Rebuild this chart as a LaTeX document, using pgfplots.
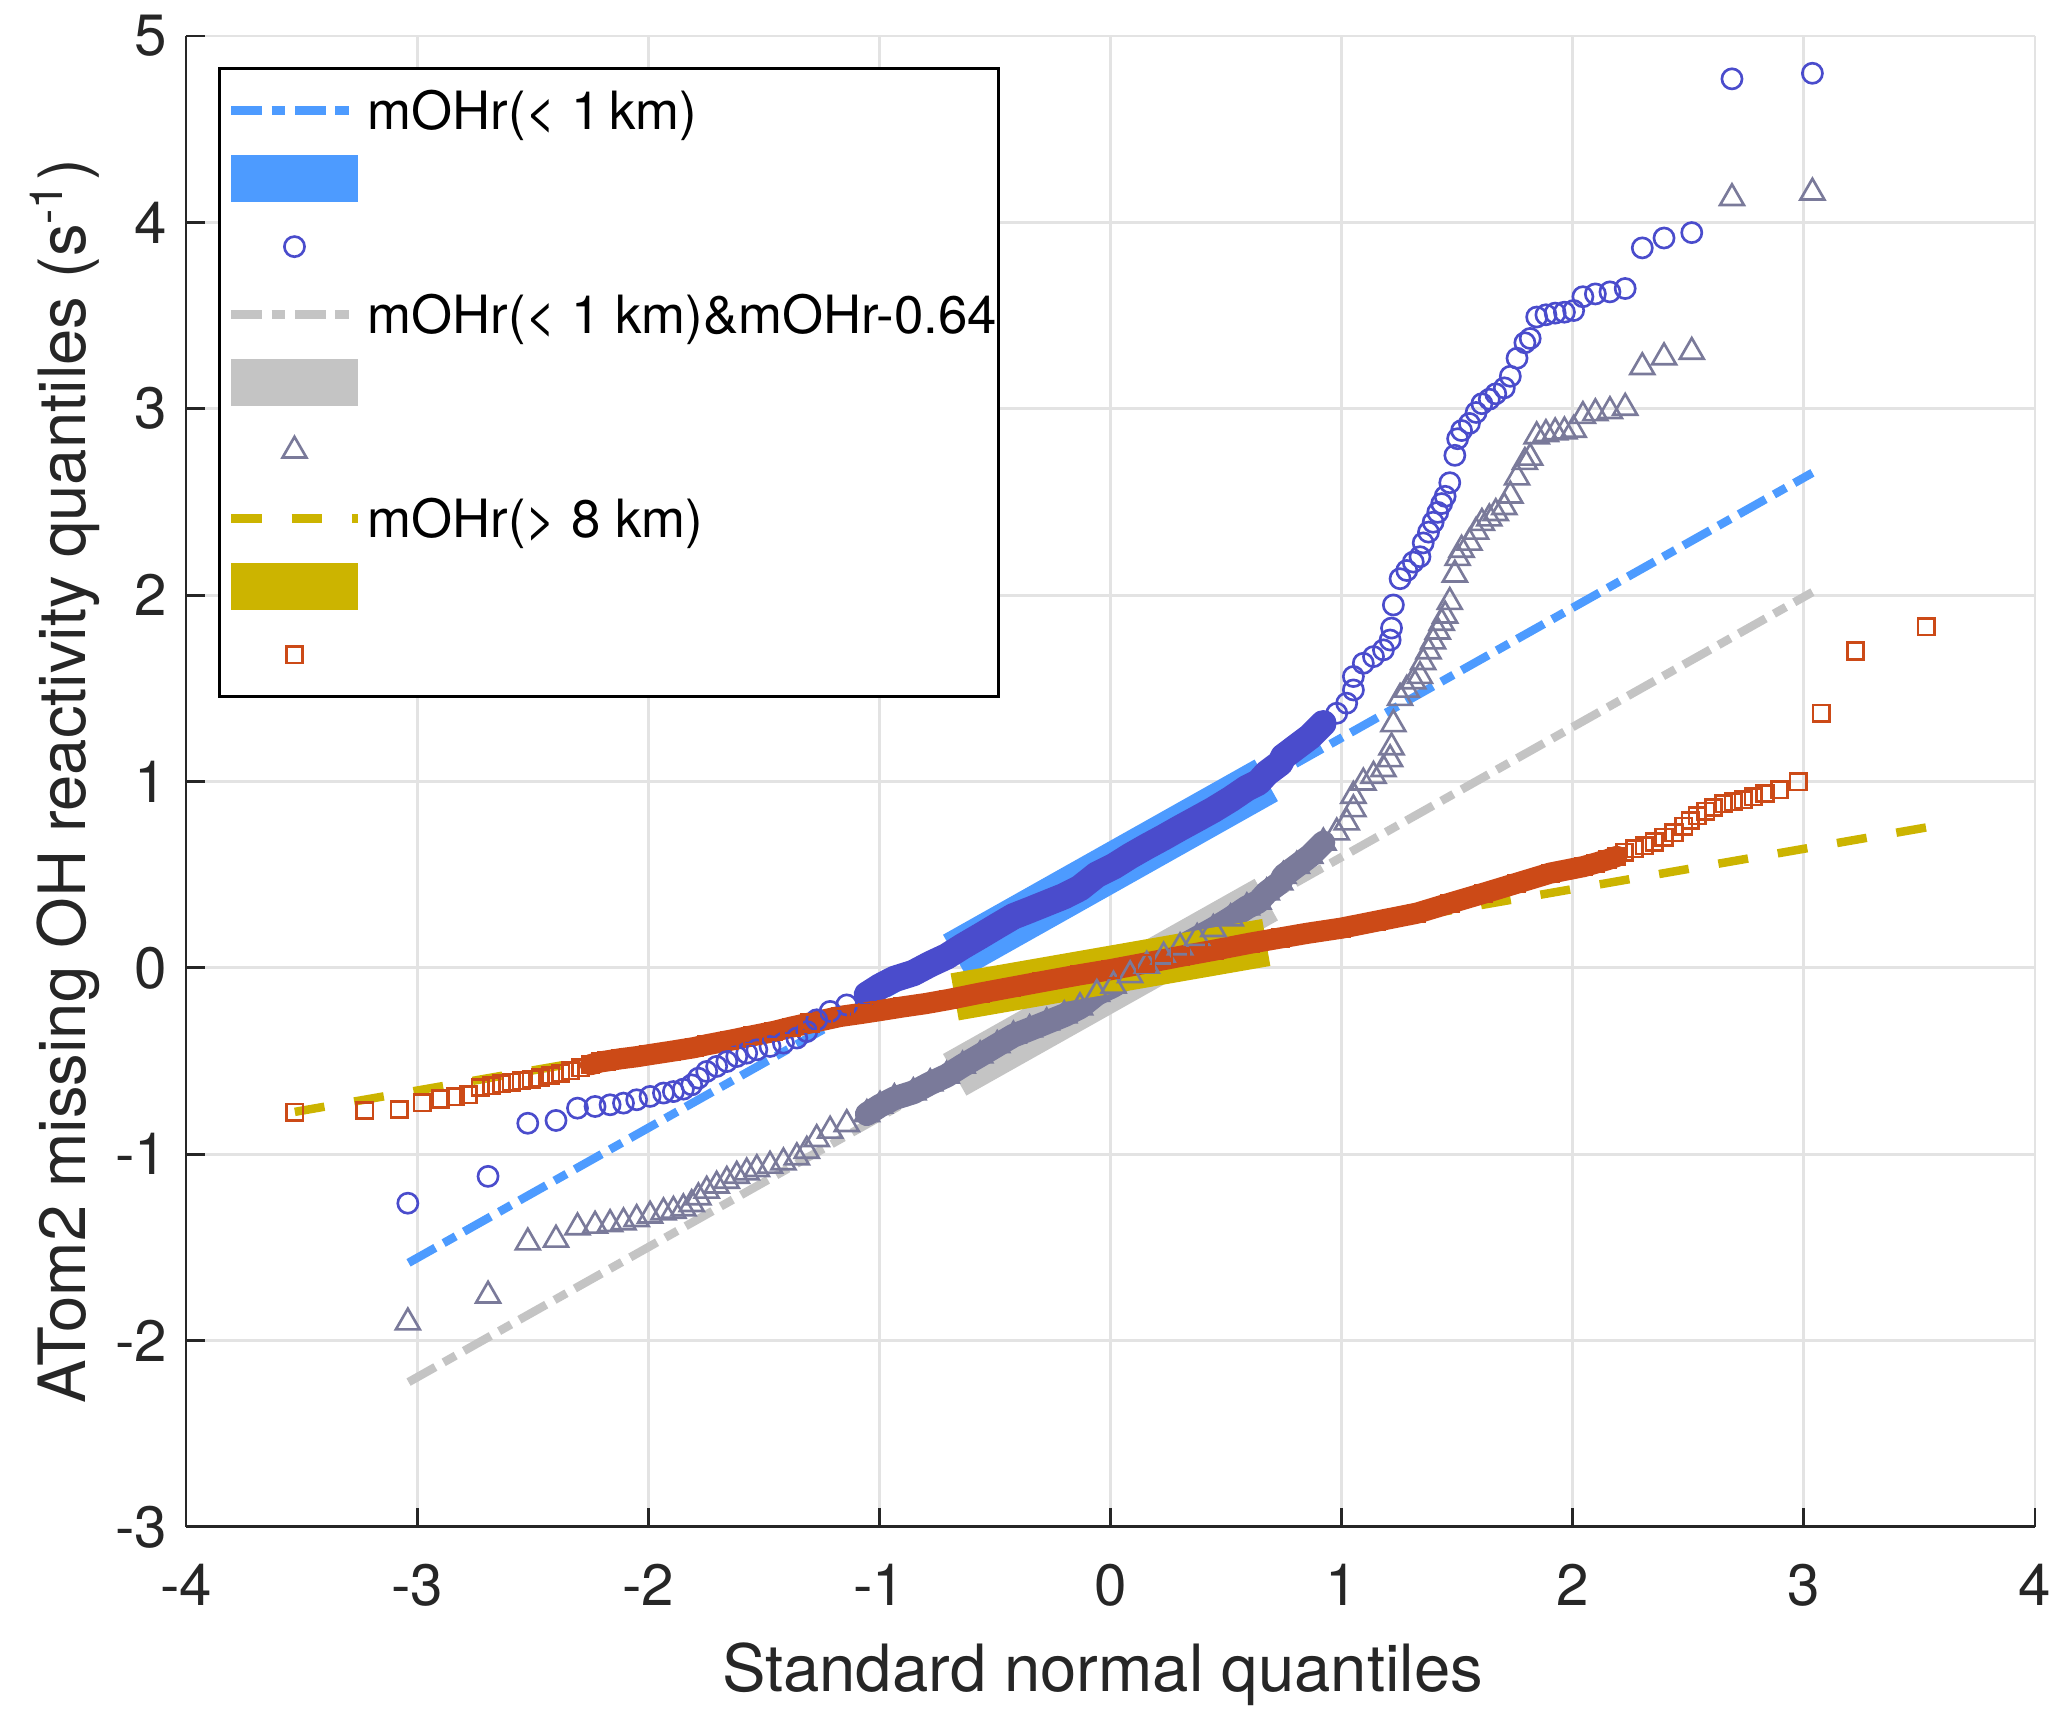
\documentclass[border=0pt]{standalone}
\usepackage{fontspec}
\setmainfont{TeX Gyre Heros}
\usepackage{pgfplots}
\usepackage{pgfplotstable}
\pgfplotsset{compat=1.18}

\definecolor{lineblue}{RGB}{77,155,255}
\definecolor{circblue}{RGB}{74,76,204}
\definecolor{lgray}{RGB}{196,196,196}
\definecolor{trigray}{RGB}{122,122,154}
\definecolor{lyellow}{RGB}{204,180,0}
\definecolor{sqred}{RGB}{204,74,23}
\definecolor{txtgray}{RGB}{38,38,38}
\definecolor{gridgray}{RGB}{227,227,227}

\pgfplotsset{
  lineleg/.style={legend image code/.code={%
    \path[draw=none, fill=none, use as bounding box] (0pt,-4.7pt) rectangle (23.8pt,4.7pt);%
    \draw[##1] (0pt,0pt) -- (23.8pt,0pt);}},
  markleg/.style={legend image code/.code={%
    \path[draw=none, fill=none, use as bounding box] (0pt,-4.7pt) rectangle (23.8pt,4.7pt);%
    \draw[##1] plot coordinates {(11.9pt,0pt)};}},
}

% mOHr (< 1 km) sample quantiles
\pgfplotstableread{
x y
-3.040 -1.263
-2.693 -1.119
-2.521 -0.834
-2.399 -0.819
-2.306 -0.753
-2.230 -0.744
-2.165 -0.735
-2.107 -0.726
-2.050 -0.708
-1.992 -0.690
-1.934 -0.672
-1.891 -0.664
-1.848 -0.651
-1.812 -0.628
-1.783 -0.592
-1.747 -0.556
-1.704 -0.529
-1.660 -0.503
-1.617 -0.476
-1.574 -0.458
-1.530 -0.440
-1.473 -0.422
-1.415 -0.404
-1.357 -0.377
-1.314 -0.342
-1.271 -0.279
-1.213 -0.234
-1.141 -0.199
-1.054 -0.145
-0.997 -0.100
-0.935 -0.060
-0.853 -0.028
-0.780 0.020
-0.709 0.061
-0.640 0.115
-0.564 0.170
-0.490 0.225
-0.420 0.276
-0.350 0.310
-0.276 0.347
-0.200 0.385
-0.132 0.428
-0.059 0.500
0.013 0.544
0.085 0.600
0.157 0.651
0.230 0.700
0.301 0.750
0.375 0.800
0.445 0.848
0.520 0.905
0.590 0.964
0.640 0.995
0.676 1.044
0.734 1.098
0.748 1.133
0.806 1.187
0.864 1.241
0.921 1.312
0.979 1.366
1.022 1.420
1.051 1.491
1.051 1.563
1.094 1.634
1.138 1.670
1.181 1.706
1.210 1.759
1.216 1.823
1.224 1.947
1.253 2.088
1.282 2.132
1.310 2.177
1.339 2.206
1.353 2.280
1.376 2.338
1.396 2.391
1.416 2.444
1.433 2.491
1.448 2.530
1.468 2.603
1.490 2.750
1.502 2.839
1.519 2.883
1.553 2.921
1.582 2.980
1.607 3.027
1.639 3.051
1.667 3.080
1.704 3.112
1.730 3.174
1.759 3.271
1.793 3.354
1.816 3.377
1.844 3.492
1.884 3.504
1.924 3.513
1.964 3.518
2.004 3.527
2.044 3.601
2.098 3.616
2.161 3.627
2.227 3.645
2.301 3.863
2.395 3.916
2.515 3.945
2.689 4.770
3.037 4.800
}\circdata

% mOHr (> 8 km) sample quantiles
\pgfplotstableread{
x y
-3.529 -0.775
-3.226 -0.766
-3.078 -0.760
-2.978 -0.725
-2.898 -0.704
-2.835 -0.692
-2.778 -0.681
-2.727 -0.642
-2.678 -0.633
-2.635 -0.622
-2.593 -0.613
-2.550 -0.607
-2.507 -0.598
-2.468 -0.590
-2.421 -0.578
-2.378 -0.566
-2.336 -0.552
-2.293 -0.537
-2.250 -0.520
-2.207 -0.505
-2.180 -0.500
-2.120 -0.488
-2.050 -0.477
-2.000 -0.467
-1.900 -0.448
-1.800 -0.428
-1.747 -0.413
-1.650 -0.390
-1.550 -0.365
-1.458 -0.342
-1.380 -0.318
-1.300 -0.296
-1.170 -0.261
-1.080 -0.245
-1.001 -0.230
-0.900 -0.210
-0.800 -0.192
-0.700 -0.170
-0.564 -0.136
-0.430 -0.105
-0.300 -0.075
-0.132 -0.037
0.000 -0.010
0.150 0.025
0.301 0.061
0.450 0.095
0.604 0.132
0.734 0.160
0.850 0.185
1.000 0.213
1.150 0.250
1.325 0.293
1.469 0.347
1.614 0.400
1.758 0.454
1.902 0.508
2.046 0.543
2.100 0.562
2.150 0.580
2.191 0.598
2.224 0.620
2.267 0.638
2.310 0.655
2.352 0.675
2.395 0.700
2.438 0.725
2.481 0.760
2.509 0.790
2.538 0.815
2.575 0.840
2.609 0.860
2.652 0.880
2.695 0.891
2.738 0.902
2.781 0.918
2.832 0.935
2.895 0.955
2.975 0.999
3.075 1.367
3.223 1.700
3.529 1.829
}\sqdata

\begin{document}
\begin{tikzpicture}
\begin{axis}[
  at={(0pt,0pt)}, anchor=south west,
  scale only axis, width=348.87pt, height=281.3pt,
  xmin=-4, xmax=4, ymin=-3, ymax=5,
  xtick={-4,-3,-2,-1,0,1,2,3,4},
  ytick={-3,-2,-1,0,1,2,3,4,5},
  axis x line*=bottom, axis y line*=left,
  x axis line style={-, line width=0.55pt, color=txtgray},
  y axis line style={-, line width=0.55pt, color=txtgray},
  tick align=inside, major tick length=3.6pt,
  tick style={line width=0.55pt, color=txtgray},
  grid=major, major grid style={color=gridgray, line width=0.55pt},
  /pgf/number format/assume math mode=true,
  ticklabel style={font=\fontsize{11}{13}\selectfont, text=txtgray},
  xticklabel style={yshift=-3.5pt},
  xlabel={Standard normal quantiles},
  ylabel={ATom2 missing OH reactivity quantiles (s\textsuperscript{-1})},
  label style={font=\fontsize{12.3}{15}\selectfont, text=txtgray},
  xlabel style={at={(axis description cs:0.4957,-0.1106)}, anchor=base},
  ylabel style={at={(axis description cs:-0.0542,0.5)}, anchor=base},
  legend cell align=left,
  legend style={
    at={(axis description cs:0.0172,0.979)}, anchor=north west,
    draw=black, line width=0.55pt, fill=white,
    inner xsep=2.3pt, inner ysep=3.2pt,
    font=\fontsize{9.95}{11}\selectfont,
    row sep=3.43pt, column sep=1.9pt,
    nodes={inner sep=0pt, text height=8.2pt, text depth=1.2pt},
  },
  lineleg,
]
% ---- mOHr(< 1 km)
\addplot[lineblue, line width=1.6pt, dash pattern=on 5.8pt off 1.8pt on 2.6pt off 1.8pt]
  coordinates {(-3.037,-1.583) (3.037,2.656)};
\addlegendentry{mOHr(< 1\,km)}
\addplot[lineblue, line width=9pt]
  coordinates {(-0.674,0.066) (0.674,1.006)};
\addlegendentry{~}
\addplot[forget plot, circblue, line width=5pt, line cap=round, line join=round,
  restrict x to domain=-1.1:0.93] table[x=x,y=y] {\circdata};
\addplot[circblue, only marks, mark=o, mark size=1.9pt, line width=0.5pt, markleg]
  table[x=x,y=y] {\circdata};
\addlegendentry{~}
% ---- mOHr(< 1 km) & mOHr - 0.64
\addplot[lgray, line width=1.6pt, dash pattern=on 5.8pt off 1.8pt on 2.6pt off 1.8pt]
  coordinates {(-3.037,-2.223) (3.037,2.016)};
\addlegendentry{mOHr(< 1 km)\&mOHr-0.64\hspace*{-2pt}}
\addplot[lgray, line width=9pt]
  coordinates {(-0.674,-0.574) (0.674,0.366)};
\addlegendentry{~}
\addplot[forget plot, trigray, line width=4.5pt, line cap=round, line join=round,
  restrict x to domain=-1.1:0.93] table[x=x,y expr=\thisrow{y}-0.64] {\circdata};
\addplot[trigray, only marks, mark=triangle, mark size=2.6pt, line width=0.5pt, markleg]
  table[x=x,y expr=\thisrow{y}-0.64] {\circdata};
\addlegendentry{~}
% ---- mOHr(> 8 km)
\addplot[lyellow, line width=1.6pt, dash pattern=on 5.68pt off 5.68pt]
  coordinates {(-3.529,-0.773) (3.529,0.753)};
\addlegendentry{mOHr(> 8 km)}
\addplot[lyellow, line width=9pt]
  coordinates {(-0.674,-0.156) (0.674,0.136)};
\addlegendentry{~}
\addplot[forget plot, sqred, line width=4pt, line cap=round, line join=round,
  restrict x to domain=-2.25:2.2] table[x=x,y=y] {\sqdata};
\addplot[sqred, only marks, mark=square, mark size=1.55pt, line width=0.5pt, markleg]
  table[x=x,y=y] {\sqdata};
\addlegendentry{~}
\end{axis}
\pgfresetboundingbox
\path[use as bounding box] (-35.09pt,-36.6pt) rectangle (354.91pt,288.09pt);
\end{tikzpicture}
\end{document}
